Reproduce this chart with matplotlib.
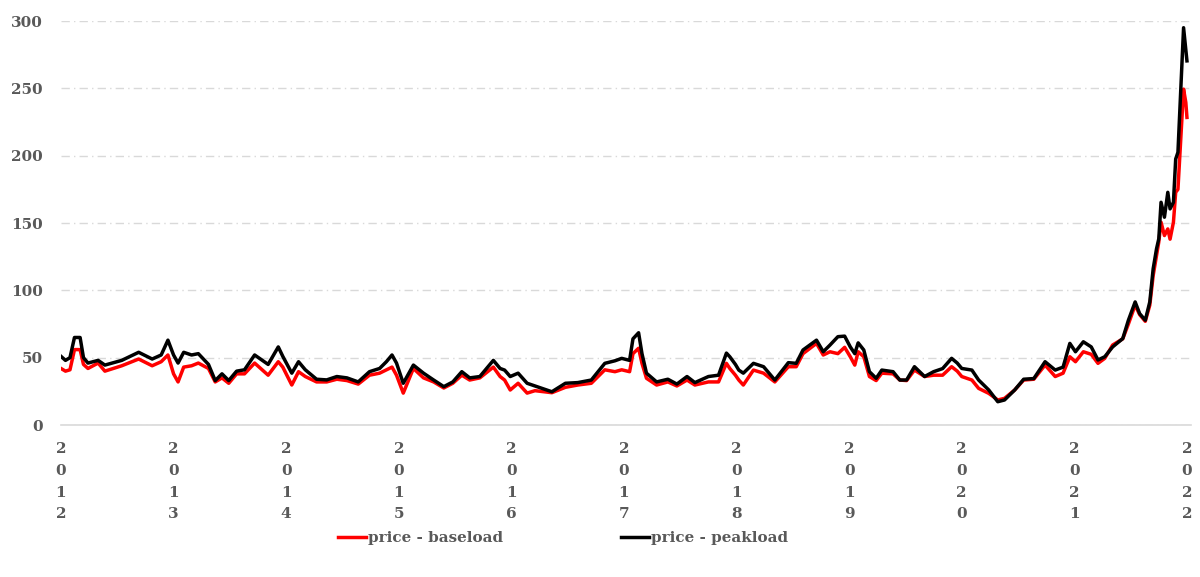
import matplotlib
matplotlib.use("Agg")
import matplotlib.pyplot as plt

# decimal years
dates = [2012.00, 2012.04, 2012.08, 2012.12, 2012.17, 2012.20, 2012.24, 2012.33, 2012.39, 2012.54,
         2012.69, 2012.81, 2012.89, 2012.95, 2013.00, 2013.04, 2013.09, 2013.16, 2013.22, 2013.31,
         2013.37, 2013.43, 2013.49, 2013.56, 2013.63, 2013.72, 2013.84, 2013.93, 2013.97, 2014.05,
         2014.11, 2014.17, 2014.27, 2014.36, 2014.45, 2014.54, 2014.64, 2014.74, 2014.83, 2014.89,
         2014.94, 2014.98, 2015.04, 2015.13, 2015.22, 2015.31, 2015.40, 2015.48, 2015.56, 2015.63,
         2015.72, 2015.84, 2015.90, 2015.94, 2015.99, 2016.06, 2016.14, 2016.21, 2016.36, 2016.48,
         2016.59, 2016.71, 2016.83, 2016.92, 2016.98, 2017.05, 2017.08, 2017.13, 2017.16, 2017.20,
         2017.29, 2017.39, 2017.47, 2017.56, 2017.63, 2017.75, 2017.84, 2017.91, 2017.94, 2017.99,
         2018.02, 2018.06, 2018.15, 2018.24, 2018.34, 2018.46, 2018.53, 2018.59, 2018.71, 2018.77,
         2018.83, 2018.90, 2018.96, 2019.01, 2019.05, 2019.08, 2019.13, 2019.18, 2019.24, 2019.29,
         2019.39, 2019.45, 2019.51, 2019.58, 2019.67, 2019.75, 2019.83, 2019.91, 2019.96, 2020.00,
         2020.09, 2020.15, 2020.24, 2020.32, 2020.38, 2020.47, 2020.55, 2020.64, 2020.74, 2020.83,
         2020.90, 2020.96, 2021.01, 2021.08, 2021.15, 2021.21, 2021.27, 2021.34, 2021.43, 2021.48,
         2021.54, 2021.58, 2021.63, 2021.67, 2021.70, 2021.73, 2021.75, 2021.77, 2021.80, 2021.83,
         2021.85, 2021.88, 2021.90, 2021.92, 2021.94, 2021.97, 2021.99, 2022.00]

baseload = [42, 40, 41, 56, 56, 45, 42, 46, 40, 44,
            49, 44, 47, 52, 38, 32, 43, 44, 46, 42,
            32, 35, 31, 38, 38, 46, 37, 47, 43, 29.7,
            39.6, 36, 32, 32, 34, 33, 30.4, 37, 38.5, 41,
            43, 37, 23.7, 42, 35, 32, 27.5, 31, 37, 33.4,
            35, 43, 36, 33.4, 26, 31, 23.7, 25.5, 24, 28,
            29.7, 31, 41, 39.6, 41, 39.6, 53, 57, 45.8, 34.7,
            29.7, 32, 29, 33.4, 29.7, 32, 32, 45.8, 42, 37,
            33.4, 29.7, 40.8, 38.5, 32, 43.3, 43.3, 53, 60.6, 52,
            54.4, 53, 57.7, 50.7, 44.5, 54.4, 50.7, 36, 33, 38.5,
            38, 33.4, 33, 40.8, 36, 37, 37, 43.3, 40, 36,
            33.4, 27.2, 23.5, 18.6, 19.8, 26, 33.4, 34, 44.5, 36,
            38.5, 50.7, 47, 54.4, 52.5, 45.8, 49.5, 59.4, 64, 75,
            89, 82, 77, 89, 111, 126, 136, 150.6, 140.7, 145.6,
            138, 150.6, 172.8, 175, 205, 249.4, 239.5, 228.4]

peakload = [51, 48, 50, 65, 65, 50, 46, 48, 44.5, 48,
            54, 49, 52, 63, 52, 46, 54, 52, 53, 45,
            33, 38, 33, 40, 41, 52, 45, 58, 51, 38.5,
            47, 41, 34, 33.5, 36, 35, 32, 39.6, 42, 47,
            52, 46, 31, 44.5, 38.5, 33.4, 28.5, 32, 39.6, 35,
            36, 48, 42, 40.8, 36, 38.5, 31, 29, 24.7, 31,
            31.5, 33.4, 45.8, 47.7, 49.5, 48, 64, 68.5, 53, 38.5,
            32, 34, 30.4, 36, 31.5, 36, 37, 53.4, 50.7, 45,
            40.8, 38.5, 45.8, 43.3, 33.4, 46.3, 45.8, 55.7, 63, 54.4,
            59.4, 65.6, 66, 58, 53, 61, 55.7, 39.6, 34.7, 40.8,
            39.6, 33.4, 33.4, 43.3, 36, 39.6, 41.9, 49.5, 46, 42,
            40.8, 33.4, 26, 17.3, 18.6, 26, 34, 34.5, 47, 40.8,
            43, 60.6, 54.4, 61.8, 58, 48.3, 50.7, 58, 64.2, 77.8,
            91.4, 82.7, 77.8, 91.4, 116, 130.9, 138.3, 165.4, 154.3, 172.8,
            160.5, 165.4, 197.5, 202.5, 239.5, 295, 279, 270.4]

years = list(range(2012, 2023))
year_labels = ["\n".join(str(y)) for y in years]

txt = "#595959"
grid_col = "#D9D9D9"

fig = plt.figure(figsize=(12, 5.77), dpi=100)
ax = fig.add_axes([0.0508, 0.2634, 0.9417, 0.7002])

ax.plot(dates, baseload, color="#FF0000", lw=2.5, label="price - baseload")
ax.plot(dates, peakload, color="#000000", lw=2.5, label="price - peakload")

ax.set_xlim(2012, 2022.036)
ax.set_ylim(0, 300)
ax.set_yticks(range(0, 301, 50))
ax.set_xticks(years)
ax.set_xticklabels(year_labels)

ax.grid(axis="y", color=grid_col, lw=1, linestyle=(0, (6, 3, 1, 3)))
ax.set_axisbelow(True)
for s in ["top", "right", "left"]:
    ax.spines[s].set_visible(False)
ax.spines["bottom"].set_color(grid_col)
ax.spines["bottom"].set_linewidth(1.2)

ax.tick_params(axis="both", length=0, colors=txt)
ax.tick_params(axis="y", pad=13)
ax.tick_params(axis="x", pad=12)
for lab in ax.get_xticklabels() + ax.get_yticklabels():
    lab.set_fontfamily("DejaVu Serif")
    lab.set_fontweight("bold")
    lab.set_fontsize(11)
for lab in ax.get_xticklabels():
    lab.set_linespacing(1.72)

leg = ax.legend(loc="center", bbox_to_anchor=(0.444, -0.28), ncol=2, frameon=False,
                handlelength=1.85, handletextpad=0.13, columnspacing=7.8,
                prop={"family": "DejaVu Serif", "weight": "bold", "size": 10.9})
for t in leg.get_texts():
    t.set_color(txt)

fig.savefig("out.png", dpi=100)
